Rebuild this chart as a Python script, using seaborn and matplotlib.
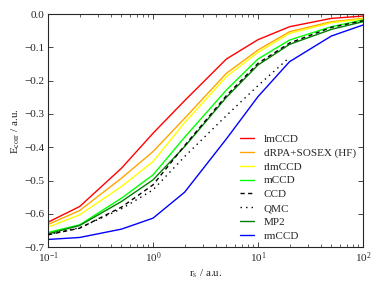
import matplotlib
matplotlib.use("Agg")
import matplotlib.pyplot as plt
import matplotlib.ticker as mticker
import seaborn as sns

# r_s grid of the calculations
rs = [0.1, 0.2, 0.5, 1, 2, 5, 10, 20, 50, 100]
rs_qmc = [0.1, 0.2, 0.5, 1, 2, 5, 10, 20]
yticks = [-0.7, -0.6, -0.5, -0.4, -0.3, -0.2, -0.1, 0.0]

lmccd = [-0.625, -0.578, -0.463, -0.358, -0.260, -0.135, -0.077, -0.038, -0.013, -0.006]
drpa_sosex = [-0.632, -0.590, -0.493, -0.413, -0.313, -0.178, -0.108, -0.053, -0.023, -0.013]
rlmccd = [-0.640, -0.603, -0.518, -0.443, -0.326, -0.188, -0.115, -0.058, -0.026, -0.015]
mccd = [-0.656, -0.633, -0.553, -0.483, -0.370, -0.228, -0.135, -0.078, -0.038, -0.018]
ccd = [-0.663, -0.643, -0.580, -0.513, -0.395, -0.245, -0.148, -0.087, -0.040, -0.020]
qmc = [-0.662, -0.642, -0.585, -0.528, -0.428, -0.305, -0.215, -0.130]
mp2 = [-0.660, -0.635, -0.563, -0.498, -0.398, -0.250, -0.153, -0.091, -0.046, -0.023]
rmccd = [-0.677, -0.671, -0.646, -0.613, -0.535, -0.375, -0.248, -0.143, -0.066, -0.033]

sns.set_style("ticks")
plt.rcParams["font.family"] = ["Liberation Serif", "DejaVu Serif"]
plt.rcParams["mathtext.fontset"] = "stix"
plt.rcParams["xtick.direction"] = "in"
plt.rcParams["ytick.direction"] = "in"

fig = plt.figure(figsize=(3.82, 2.87), dpi=100)
ax = fig.add_axes([0.126, 0.139, 0.824, 0.812])

lw = 1.0
sns.lineplot(x=rs, y=lmccd, color="red", lw=lw, label="lmCCD", ax=ax)
sns.lineplot(x=rs, y=drpa_sosex, color="#ffa500", lw=lw, label="dRPA+SOSEX (HF)", ax=ax)
sns.lineplot(x=rs, y=rlmccd, color="#ffff00", lw=lw, label="rlmCCD", ax=ax)
sns.lineplot(x=rs, y=mccd, color="#00ff00", lw=lw, label="mCCD", ax=ax)
sns.lineplot(x=rs, y=ccd, color="black", lw=lw, ls=(0, (3, 2.5)), label="CCD", ax=ax, zorder=5)
sns.lineplot(x=rs_qmc, y=qmc, color="black", lw=lw, ls=(0, (1, 3)), label="QMC", ax=ax, zorder=5)
sns.lineplot(x=rs, y=mp2, color="green", lw=lw, label="MP2", ax=ax)
sns.lineplot(x=rs, y=rmccd, color="blue", lw=lw, label="rmCCD", ax=ax)

ax.set_xscale("log")
ax.set_xlim(0.1, 100)
ax.set_ylim(-0.7, 0.0)
ax.set_yticks(yticks)
ax.yaxis.set_major_formatter(mticker.FuncFormatter(
    lambda v, p: ("%.1f" % abs(v)) if abs(v) < 1e-9 else ("%.1f" % v).replace("-", "\u2212")))
ax.tick_params(which="both", top=True, right=True, labelsize=8)
ax.tick_params(which="major", length=3.5, width=0.6, pad=2.5)
ax.tick_params(which="minor", length=2, width=0.5)
for s in ax.spines.values():
    s.set_linewidth(0.8)

ax.set_xlabel(r"r$_\mathrm{s}$ / a.u.", fontsize=8, labelpad=2)
ax.set_ylabel(r"E$_\mathrm{corr}$ / a.u.", fontsize=8, labelpad=2)

leg = ax.legend(loc="lower right", frameon=False, fontsize=8, handlelength=1.25,
                handletextpad=0.9, labelspacing=0.36, bbox_to_anchor=(1.01, -0.015))

fig.savefig("out.png", dpi=100)
